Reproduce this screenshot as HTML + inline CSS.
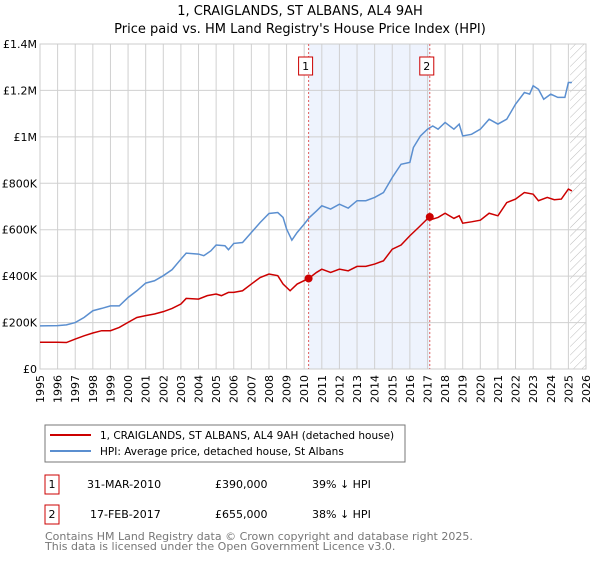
<!DOCTYPE html>
<html><head><meta charset="utf-8"><style>
body{margin:0;background:#fff;font-family:"DejaVu Sans","Liberation Sans",sans-serif;}
svg text{font-family:"DejaVu Sans","Liberation Sans",sans-serif;}
</style></head><body>
<svg id="chart" width="600" height="560" viewBox="0 0 600 560" xmlns="http://www.w3.org/2000/svg">
<text x="300" y="15" text-anchor="middle" font-size="13">1, CRAIGLANDS, ST ALBANS, AL4 9AH</text>
<text x="300" y="33" text-anchor="middle" font-size="13">Price paid vs. HM Land Registry's House Price Index (HPI)</text>
<defs><pattern id="hatch" width="6" height="6" patternUnits="userSpaceOnUse" patternTransform="rotate(45)"><line x1="0" y1="0" x2="0" y2="6" stroke="#bbb" stroke-width="1"/></pattern></defs>
<g id="grid"></g><g id="marks"></g><g id="axes"></g>
<rect x="45" y="425" width="360" height="37" fill="#fff" stroke="#777"/>
<line x1="50" y1="435" x2="91" y2="435" stroke="#cc0000" stroke-width="2"/>
<text x="100" y="439" font-size="10.5">1, CRAIGLANDS, ST ALBANS, AL4 9AH (detached house)</text>
<line x1="50" y1="451" x2="91" y2="451" stroke="#5b8fd0" stroke-width="2"/>
<text x="100" y="455" font-size="10.5">HPI: Average price, detached house, St Albans</text>
<g font-size="11">
<rect x="45" y="475" width="14" height="19" fill="none" stroke="#c00"/>
<text x="52" y="488" text-anchor="middle">1</text>
<text x="87" y="488">31-MAR-2010</text>
<text x="215" y="488">£390,000</text>
<text x="312" y="488">39% ↓ HPI</text>
<rect x="45" y="505" width="14" height="19" fill="none" stroke="#c00"/>
<text x="52" y="518" text-anchor="middle">2</text>
<text x="90" y="518">17-FEB-2017</text>
<text x="215" y="518">£655,000</text>
<text x="312" y="518">38% ↓ HPI</text>
</g>
<text x="45" y="540" font-size="11" fill="#777">Contains HM Land Registry data © Crown copyright and database right 2025.</text>
<text x="45" y="550" font-size="11" fill="#777">This data is licensed under the Open Government Licence v3.0.</text>
</svg>
<script>
const hpiT=[1995,1996,1996.5,1997,1997.5,1998,1998.5,1999,1999.5,2000,2000.5,2001,2001.5,2002,2002.5,2003,2003.3,2004,2004.3,2004.7,2005,2005.5,2005.7,2006,2006.5,2007,2007.5,2008,2008.5,2008.8,2009,2009.3,2009.6,2010,2010.3,2010.7,2011,2011.5,2012,2012.5,2013,2013.5,2014,2014.5,2015,2015.5,2016,2016.2,2016.6,2017,2017.3,2017.6,2018,2018.5,2018.8,2019,2019.5,2020,2020.5,2021,2021.5,2022,2022.5,2022.8,2023,2023.3,2023.6,2024,2024.4,2024.8,2025,2025.2];
const hpiV=[186,187,190,200,222,251,261,272,272,308,337,370,380,402,428,473,499,495,488,509,534,531,514,541,545,588,631,670,674,653,603,555,588,624,653,681,703,689,710,693,725,725,739,760,825,882,890,954,1004,1033,1047,1033,1062,1033,1055,1004,1011,1033,1076,1055,1076,1141,1191,1184,1220,1205,1162,1184,1170,1170,1234,1234];
const ppT=[1995,1996,1996.5,1997,1997.5,1998,1998.5,1999,1999.5,2000,2000.5,2001,2001.5,2002,2002.5,2003,2003.3,2004,2004.5,2005,2005.3,2005.7,2006,2006.5,2007,2007.5,2008,2008.5,2008.8,2009.2,2009.6,2010.25,2010.7,2011,2011.5,2012,2012.5,2013,2013.5,2014,2014.5,2015,2015.5,2016,2016.5,2017.13,2017.3,2017.6,2018,2018.5,2018.8,2019,2019.5,2020,2020.5,2021,2021.5,2022,2022.5,2023,2023.3,2023.8,2024.2,2024.6,2025,2025.2];
const ppV=[115,115,114,129,143,155,165,165,179,201,222,230,237,247,261,280,304,301,316,323,316,330,330,337,366,394,409,402,366,337,366,390,416,430,416,430,423,442,442,452,466,516,534,574,610,657,646,653,671,649,660,628,634,641,671,660,717,732,760,753,725,739,729,732,775,767];
const saleT=[2010.25,2017.13];
const saleV=[390,655];
const saleLabels=["1","2"];
const yTicks=[0,200,400,600,800,1000,1200,1400];
const yTickLabels=["£0","£200K","£400K","£600K","£800K","£1M","£1.2M","£1.4M"];
const xYears=[];for(let y=1995;y<=2026;y++)xYears.push(y);
const X0=40,X1=586,Y0=369,Y1=44,T0=1995,T1=2026;
const sx=t=>X0+(t-T0)/(T1-T0)*(X1-X0);
const sy=v=>Y0-v/1400*(Y0-Y1);
const NS="http://www.w3.org/2000/svg";
function mk(tag,parent,attrs){const e=document.createElementNS(NS,tag);for(const k in attrs)e.setAttribute(k,attrs[k]);parent.appendChild(e);return e;}
const grid=document.getElementById('grid'),marks=document.getElementById('marks'),axes=document.getElementById('axes');
let r=mk('rect',grid,{x:sx(saleT[0]),y:Y1,width:sx(saleT[1])-sx(saleT[0]),height:Y0-Y1,fill:'#eef3fd'});


r=mk('rect',grid,{x:sx(2025.1),y:Y1,width:X1-sx(2025.1),height:Y0-Y1,fill:'url(#hatch)'});


xYears.forEach(y=>{const l=mk('line',grid,{x1:sx(y),x2:sx(y),y1:Y1,y2:Y0,stroke:'#d0d0d0'});


const t=mk('text',axes,{x:0,y:0,'font-size':11,'text-anchor':'end',transform:`translate(${sx(y)+4},${Y0+6}) rotate(-90)`});t.textContent=y;

});
yTicks.forEach((v,i)=>{const l=mk('line',grid,{x1:X0,x2:X1,y1:sy(v),y2:sy(v),stroke:'#d0d0d0'});


const t=mk('text',axes,{x:X0-3,y:sy(v)+4,'font-size':11,'text-anchor':'end'});t.textContent=yTickLabels[i];

});
r=mk('rect',grid,{x:X0,y:Y1,width:X1-X0,height:Y0-Y1,fill:'none',stroke:'#ccc'});


const line=(T,V,c,n)=>{const p=mk('polyline',marks,{points:T.map((t,i)=>sx(t)+','+sy(V[i])).join(' '),fill:'none',stroke:c,'stroke-width':1.5});

};
line(hpiT,hpiV,'#5b8fd0','hpi-line');
line(ppT,ppV,'#cc0000','price-paid-line');
saleT.forEach((t,i)=>{const l=mk('line',marks,{x1:sx(t),x2:sx(t),y1:Y1,y2:Y0,stroke:'#e06060','stroke-dasharray':'2,2'});


const c=mk('circle',marks,{cx:sx(t),cy:sy(saleV[i]),r:4,fill:'#cc0000'});


const b=mk('rect',marks,{x:sx(t)-10,y:57,width:14,height:18,fill:'#fff',stroke:'#c00'});


const tx=mk('text',marks,{x:sx(t)-3,y:70,'font-size':11,'text-anchor':'middle'});tx.textContent=saleLabels[i];

});
</script>
</body></html>
